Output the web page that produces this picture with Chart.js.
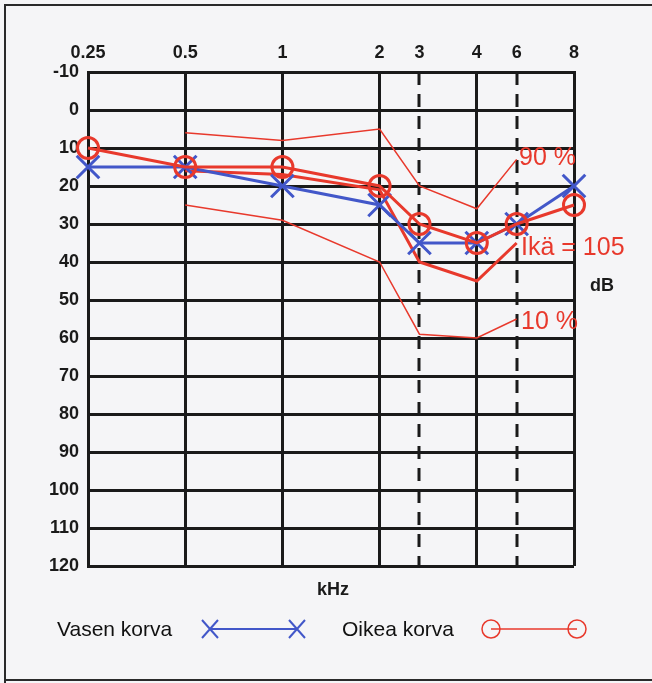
<!DOCTYPE html>
<html>
<head>
<meta charset="utf-8">
<script src="https://cdn.jsdelivr.net/npm/chart.js@4.4.1/dist/chart.umd.min.js"></script>
<style>
html,body{margin:0;padding:0;background:#f5f5f7;}
#wrap{width:652px;height:683px;position:relative;}
canvas{display:block;}
</style>
</head>
<body>
<div id="wrap"><canvas id="c" width="652" height="683"></canvas></div>
<script>
// ---- data ----
const freqs = [0.25, 0.5, 1, 2, 3, 4, 6, 8];
const freqLabels = ['0.25', '0.5', '1', '2', '3', '4', '6', '8'];
const dbTicks = [-10, 0, 10, 20, 30, 40, 50, 60, 70, 80, 90, 100, 110, 120];
const vasenKorva = [15, 15, 20, 25, 35, 35, 30, 20];
const oikeaKorva = [10, 15, 15, 20, 30, 35, 30, 25];
const normFreqs = [0.5, 1, 2, 3, 4, 6];
const ika105 = [16, 17, 21, 40, 45, 35];
const p90 = [6, 8, 5, 20, 26, 13];
const p10 = [25, 29, 40, 59, 60, 55];
const seriesNames = ['Vasen korva', 'Oikea korva'];

// audiogram x position: octaves equally spaced, half-octave frequencies at the chart's intermediate lines
function xPos(f) {
  const k = Math.floor(Math.log2(f / 0.25) + 1e-9);
  const base = 0.25 * Math.pow(2, k);
  return k + (f - base) / base * 0.82;
}
const pts = (fs, vs) => fs.map((f, i) => ({x: xPos(f), y: vs[i]}));
const dashedFreqs = [3, 6];
const isDashed = v => dashedFreqs.some(f => Math.abs(xPos(f) - v) < 1e-6);

const BLUE = '#4257c9';
const RED = '#e8392c';
const INK = '#1a1a1a';
const FONT = '"Liberation Sans", Arial, sans-serif';

const bgPlugin = {
  id: 'bg',
  beforeDraw(chart) {
    const c = chart.ctx;
    c.save();
    c.fillStyle = '#f5f5f7';
    c.fillRect(0, 0, chart.width, chart.height);
    c.restore();
  }
};

const dashPlugin = {
  id: 'dashes',
  beforeDatasetsDraw(chart) {
    const c = chart.ctx, xs = chart.scales.x, a = chart.chartArea;
    c.save();
    c.strokeStyle = INK;
    c.lineWidth = 3;
    c.setLineDash([13, 9]);
    dashedFreqs.forEach(f => {
      const px = Math.round(xs.getPixelForValue(xPos(f)));
      c.beginPath();
      c.moveTo(px, a.top);
      c.lineTo(px, a.bottom);
      c.stroke();
    });
    c.restore();
  }
};

const decoPlugin = {
  id: 'deco',
  afterDraw(chart) {
    const c = chart.ctx;
    c.save();
    // outer frame
    c.strokeStyle = '#2a2a2a';
    c.lineWidth = 2;
    c.beginPath();
    c.moveTo(5, 683); c.lineTo(5, 5); c.lineTo(652, 5);
    c.moveTo(5, 680); c.lineTo(652, 680);
    c.stroke();

    // axis titles
    c.fillStyle = INK;
    c.font = 'bold 18px ' + FONT;
    c.textBaseline = 'middle';
    c.textAlign = 'center';
    c.fillText('kHz', 333, 590);
    c.fillText('dB', 602, 286);

    // annotations
    c.fillStyle = RED;
    c.font = '25px ' + FONT;
    c.textAlign = 'left';
    c.fillText('90 %', 519, 158);
    c.fillText('Ikä = 105', 521, 248);
    c.fillText('10 %', 521, 322);

    // legend
    c.fillStyle = '#111';
    c.font = '21px ' + FONT;
    c.fillText(seriesNames[0], 57, 630);
    c.fillText(seriesNames[1], 342, 630);

    const ly = 629;
    c.strokeStyle = BLUE;
    c.lineWidth = 2;
    c.beginPath(); c.moveTo(210, ly); c.lineTo(297, ly); c.stroke();
    [210, 297].forEach(x => {
      c.beginPath();
      c.moveTo(x - 8, ly - 9); c.lineTo(x + 8, ly + 9);
      c.moveTo(x + 8, ly - 9); c.lineTo(x - 8, ly + 9);
      c.stroke();
    });
    c.strokeStyle = RED;
    c.lineWidth = 1.5;
    c.beginPath(); c.moveTo(491, ly); c.lineTo(577, ly); c.stroke();
    [491, 577].forEach(x => {
      c.beginPath(); c.arc(x, ly, 9, 0, Math.PI * 2); c.stroke();
    });
    c.restore();
  }
};

new Chart(document.getElementById('c'), {
  type: 'line',
  data: {
    datasets: [
      {label: seriesNames[1], data: pts(freqs, oikeaKorva), borderColor: RED, borderWidth: 3,
       pointStyle: 'circle', pointRadius: 10.5, pointBorderWidth: 3, pointBorderColor: RED,
       pointBackgroundColor: 'rgba(0,0,0,0)', order: 1, clip: false},
      {label: seriesNames[0], data: pts(freqs, vasenKorva), borderColor: BLUE, borderWidth: 3,
       pointStyle: 'crossRot', pointRadius: 16, pointBorderWidth: 3, pointBorderColor: BLUE,
       order: 2, clip: false},
      {label: 'Ikä = 105', data: pts(normFreqs, ika105), borderColor: RED, borderWidth: 3,
       pointRadius: 0, order: 3, clip: false},
      {label: '90 %', data: pts(normFreqs, p90), borderColor: RED, borderWidth: 1.5,
       pointRadius: 0, order: 4, clip: false},
      {label: '10 %', data: pts(normFreqs, p10), borderColor: RED, borderWidth: 1.5,
       pointRadius: 0, order: 5, clip: false}
    ]
  },
  options: {
    responsive: false,
    animation: false,
    devicePixelRatio: 1,
    layout: {padding: {left: 0, top: 0, right: 78, bottom: 117}},
    plugins: {legend: {display: false}, tooltip: {enabled: false}},
    elements: {line: {tension: 0, fill: false}},
    scales: {
      x: {
        type: 'linear', position: 'top', min: 0, max: xPos(8),
        afterBuildTicks(s) { s.ticks = freqs.map(f => ({value: xPos(f)})); },
        afterFit(s) { s.height = 72; },
        ticks: {
          autoSkip: false, maxRotation: 0, padding: 8, color: INK,
          font: {family: FONT, size: 18, weight: 'bold'},
          callback: (v, i) => freqLabels[i]
        },
        grid: {
          drawTicks: false, lineWidth: 3,
          color: ctx => (ctx.tick && isDashed(ctx.tick.value)) ? 'rgba(0,0,0,0)' : INK
        },
        border: {display: true, color: INK, width: 3}
      },
      y: {
        type: 'linear', reverse: true, min: dbTicks[0], max: dbTicks[dbTicks.length - 1],
        afterBuildTicks(s) { s.ticks = dbTicks.map(v => ({value: v})); },
        afterFit(s) { s.width = 88; },
        ticks: {
          autoSkip: false, padding: 9, color: INK,
          font: {family: FONT, size: 18, weight: 'bold'},
          callback: v => String(v)
        },
        grid: {drawTicks: false, lineWidth: 3, color: INK},
        border: {display: true, color: INK, width: 3}
      }
    }
  },
  plugins: [bgPlugin, dashPlugin, decoPlugin]
});
</script>
</body>
</html>
